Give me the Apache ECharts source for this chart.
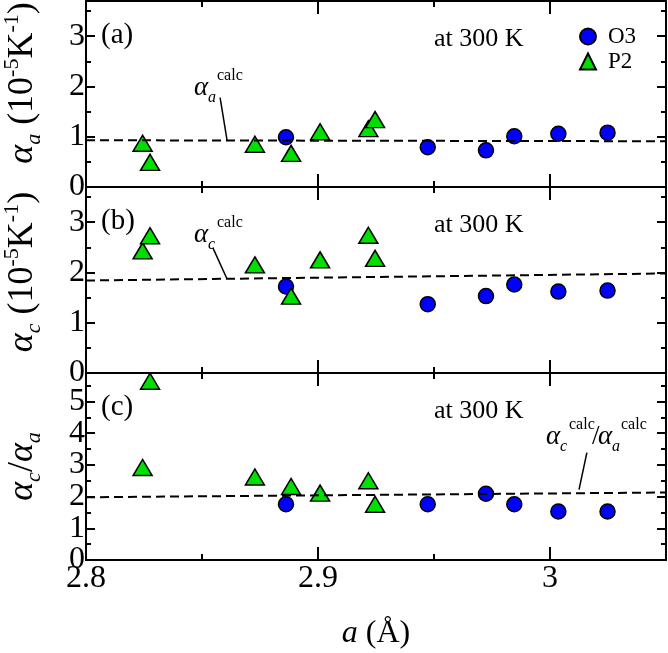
<!DOCTYPE html>
<html><head><meta charset="utf-8">
<script src="https://cdn.jsdelivr.net/npm/echarts@6/dist/echarts.min.js"></script>
<style>html,body{margin:0;padding:0;background:#fff}#c{width:668px;height:653px}</style>
</head><body><div id="c"></div>
<script>
// ---- data ----
const o3A      = [2.8862, 2.9473, 2.9724, 2.9846, 3.0036, 3.0248];
const o3AlphaA = [0.99, 0.79, 0.73, 1.01, 1.06, 1.08];
const o3AlphaC = [1.72, 1.37, 1.53, 1.76, 1.62, 1.64];
const o3Ratio  = [1.76, 1.76, 2.09, 1.76, 1.53, 1.53];

const p2A      = [2.8244, 2.8276, 2.8728, 2.8884, 2.9009, 2.9217, 2.9246];
const p2AlphaA = [0.87, 0.49, 0.85, 0.67, 1.10, 1.16, 1.34];
const p2AlphaC = [2.43, 2.73, 2.15, 1.53, 2.25, 2.74, 2.28];
const p2Ratio  = [2.92, 5.64, 2.62, 2.32, 2.11, 2.50, 1.76];

const calcX      = [2.8, 3.05];
const calcAlphaA = [0.93, 0.91];
const calcAlphaC = [1.84, 1.98];
const calcRatio  = [1.98, 2.13];

// leader lines for the "calc" annotations (data coordinates)
const leaderAX = [2.8578, 2.8608], leaderAY = [1.78, 0.93];
const leaderCX = [2.8547, 2.8608], leaderCY = [2.49, 1.87];
const leaderRX = [3.0159, 3.0125], leaderRY = [3.39, 2.22];

const xMin = 2.8, xMax = 3.05, xMajor = 0.1, xMinor = 0.05;
const yMax = [3.7, 3.7, 5.9];
const panelLabels = ['(a)', '(b)', '(c)'];
const tempText = 'at 300 K';
const seriesNames = ['O3', 'P2'];

// ---- helpers ----
const FONT = 'Liberation Serif';
const zipXY = (xs, ys) => xs.map((x, i) => [x, ys[i]]);
const grids = [
  {left: 86, right: 2, top: 1, height: 186, outerBoundsMode: 'none', containLabel: false},
  {left: 86, right: 2, top: 187, height: 186, outerBoundsMode: 'none', containLabel: false},
  {left: 86, right: 2, top: 373, height: 187, outerBoundsMode: 'none', containLabel: false}
];
const yNames = [
  '{i|α}{sub|a}{n| (10}{sup|-5}{n|K}{sup|-1}{n|)}',
  '{i|α}{sub|c}{n| (10}{sup|-5}{n|K}{sup|-1}{n|)}',
  '{i|α}{sub|c}{n|/}{i|α}{sub|a}'
];
const yNamePad = [[0, 0, 0, 22], [0, 0, 0, 16], [0, 0, 0, 0]];
const YS = 36, YSS = 22;
const yRich = {
  i:   {fontFamily: FONT, fontStyle: 'italic', fontSize: YS, lineHeight: 44, color: '#000'},
  n:   {fontFamily: FONT, fontSize: YS, lineHeight: 44, color: '#000'},
  sub: {fontFamily: FONT, fontStyle: 'italic', fontSize: YSS, lineHeight: 22, verticalAlign: 'bottom', color: '#000'},
  sup: {fontFamily: FONT, fontSize: YSS, lineHeight: 22, verticalAlign: 'top', color: '#000'}
};
const lineStyle = {color: '#000', width: 2};
const isInt = v => Math.abs(v - Math.round(v)) < 1e-6;
const yLabelBase = {margin: 1, fontFamily: FONT, fontSize: 32, color: '#000', hideOverlap: false};
const xAxes = [], yAxes = [];
grids.forEach((g, gi) => {
  ['bottom', 'top'].forEach(pos => {
    const main = gi === 2 && pos === 'bottom';
    xAxes.push({
      type: 'value', gridIndex: gi, position: pos, min: xMin, max: xMax, interval: xMajor,
      axisLine: {show: true, onZero: false, lineStyle},
      axisTick: {show: true, inside: true, length: 13, lineStyle},
      splitLine: {show: false},
      axisLabel: {
        show: main, margin: 3, fontFamily: FONT, fontSize: 32, color: '#000',
        showMinLabel: true, hideOverlap: false,
        formatter: v => Math.abs(v * 10 - Math.round(v * 10)) < 1e-6 ? String(+v.toFixed(1)) : ''
      },
      name: main ? '{i|a}{n| (Å)}' : '',
      nameLocation: 'middle', nameGap: 58,
      nameTextStyle: {fontFamily: FONT, color: '#000', fontSize: 32,
        rich: {i: {fontFamily: FONT, fontStyle: 'italic', fontSize: 32, color: '#000'},
               n: {fontFamily: FONT, fontSize: 32, color: '#000'}}}
    });
    xAxes.push({
      type: 'value', gridIndex: gi, position: pos, min: xMin, max: xMax, interval: xMinor,
      axisLine: {show: false, onZero: false},
      axisTick: {show: true, inside: true, length: 6, lineStyle},
      splitLine: {show: false}, axisLabel: {show: false}
    });
  });
  ['left', 'right'].forEach(pos => {
    // major axis: labels 1,2,3... (zero label comes from the minor axis)
    yAxes.push({
      type: 'value', gridIndex: gi, position: pos, min: 0, max: yMax[gi], interval: 1,
      axisLine: {show: true, onZero: false, lineStyle},
      axisTick: {show: true, inside: true, length: 9, lineStyle},
      splitLine: {show: false},
      axisLabel: Object.assign({}, yLabelBase, {
        show: pos === 'left', showMinLabel: false,
        formatter: v => (isInt(v) && Math.round(v) !== 0) ? String(Math.round(v)) : ''
      }),
      name: pos === 'left' ? yNames[gi] : '',
      nameLocation: 'middle', nameGap: 41, nameRotate: 90,
      nameTextStyle: {fontFamily: FONT, color: '#000', fontSize: YS, rich: yRich, padding: yNamePad[gi]}
    });
    // minor axis: 0.5 ticks, and the "0" label
    yAxes.push({
      type: 'value', gridIndex: gi, position: pos, min: 0, max: yMax[gi], interval: 0.5,
      axisLine: {show: false, onZero: false},
      axisTick: {show: true, inside: true, length: 5, lineStyle},
      splitLine: {show: false},
      axisLabel: Object.assign({}, yLabelBase, {
        show: pos === 'left', showMinLabel: true,
        formatter: v => Math.abs(v) < 1e-6 ? '0' : ''
      })
    });
  });
});

const panelData = [
  {o3: o3AlphaA, p2: p2AlphaA, calc: calcAlphaA, lx: leaderAX, ly: leaderAY},
  {o3: o3AlphaC, p2: p2AlphaC, calc: calcAlphaC, lx: leaderCX, ly: leaderCY},
  {o3: o3Ratio,  p2: p2Ratio,  calc: calcRatio,  lx: leaderRX, ly: leaderRY}
];
const series = [];
panelData.forEach((p, gi) => {
  const xi = gi * 4, yi = gi * 4;
  series.push({
    name: seriesNames[0], type: 'scatter', xAxisIndex: xi, yAxisIndex: yi,
    data: zipXY(o3A, p.o3), symbol: 'circle', symbolSize: 15, z: 3,
    itemStyle: {color: '#0000ff', borderColor: '#000', borderWidth: 1.5, opacity: 1}
  });
  series.push({
    name: seriesNames[1], type: 'scatter', xAxisIndex: xi, yAxisIndex: yi,
    data: zipXY(p2A, p.p2), symbol: 'triangle', symbolSize: [19, 16], z: 3,
    itemStyle: {color: '#00e000', borderColor: '#000', borderWidth: 1.5, opacity: 1}
  });
  series.push({
    type: 'line', xAxisIndex: xi, yAxisIndex: yi, data: zipXY(calcX, p.calc),
    symbol: 'none', silent: true, z: 4,
    lineStyle: {color: '#000', width: 2, type: [9, 5]}
  });
  series.push({
    type: 'line', xAxisIndex: xi, yAxisIndex: yi, data: zipXY(p.lx, p.ly),
    symbol: 'none', silent: true, z: 4,
    lineStyle: {color: '#000', width: 1.5}
  });
});

// ---- text annotations ----
function txt(x, y, text, size, italic) {
  return {type: 'text', x, y, silent: true, z: 10,
    style: {text, fill: '#000', font: (italic ? 'italic ' : '') + size + 'px "' + FONT + '"',
            align: 'left', verticalAlign: 'middle'}};
}
function alphaCalc(X, Y, sub) {
  return [txt(X, Y, 'α', 27, true), txt(X + 14, Y + 10, sub, 16, true), txt(X + 23, Y - 12, 'calc', 16, false)];
}
const panelTops = [1, 187, 373];
const graphics = [];
panelTops.forEach((t, gi) => {
  graphics.push(txt(101, t + 34, panelLabels[gi], 29, false));
  graphics.push(txt(434, t + 38, tempText, 26, false));
});
graphics.push(...alphaCalc(194, 88, 'a'));
graphics.push(...alphaCalc(194, 235, 'c'));
graphics.push(...alphaCalc(546, 437, 'c'));
graphics.push(txt(592, 437, '/', 27, false));
graphics.push(...alphaCalc(598, 437, 'a'));

const chart = echarts.init(document.getElementById('c'), null, {renderer: 'canvas'});
chart.setOption({
  animation: false,
  backgroundColor: '#fff',
  grid: grids,
  xAxis: xAxes,
  yAxis: yAxes,
  legend: {
    data: seriesNames, orient: 'vertical', left: 574, top: 20,
    itemWidth: 16, itemHeight: 16, itemGap: 2, selectedMode: false,
    textStyle: {fontFamily: FONT, fontSize: 23, color: '#000', padding: [0, 0, 0, 7]}
  },
  series,
  graphic: graphics
});
</script>
</body></html>
